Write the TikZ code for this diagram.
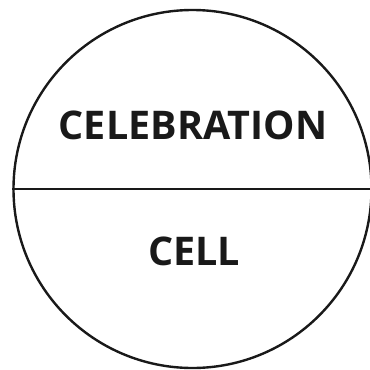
\documentclass[tikz,border=0pt]{standalone}
\usepackage{fontspec}
\setmainfont{Open Sans}
\begin{document}
\begin{tikzpicture}[
		x=1pt, y=-1pt,
		rim/.style={draw=black!90, line width=2.4pt},
		word/.style={font=\fontsize{39.5}{44}\selectfont\bfseries, text=black!90, inner sep=0pt}
		]
		\useasboundingbox (0,0) rectangle (370,370);
		% outer circle and its dividing line
		\node[rim, circle, minimum size=358pt, inner sep=0pt] (disc) at (192.5,189) {};
		\draw[rim] (disc.west) -- (disc.east);
		% labels
		\node[word] (upper) at (193,125.5) {CELEBRATION};
		\node[word] (lower) at (194,251) {CELL};
		\end{tikzpicture}
\end{document}
